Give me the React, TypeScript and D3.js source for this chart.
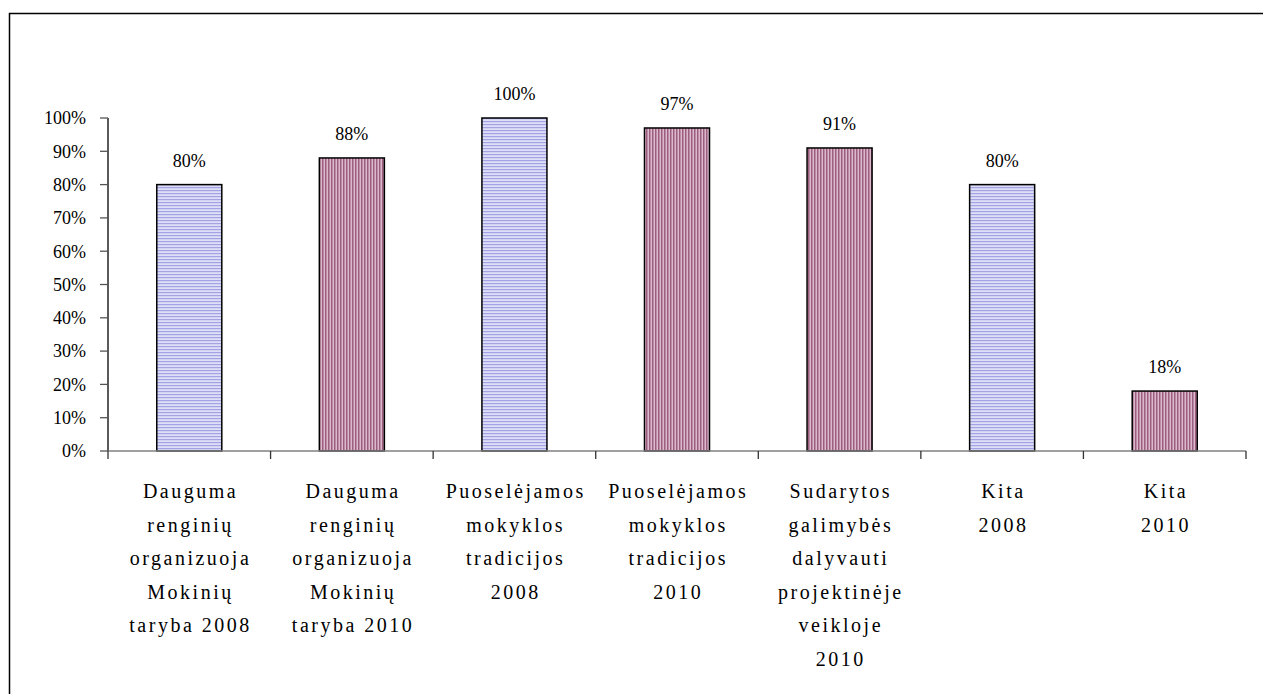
import React from "react";
import * as d3 from "d3";

const categoryLines: string[][] = [
  ["Dauguma", "renginių", "organizuoja", "Mokinių", "taryba 2008"],
  ["Dauguma", "renginių", "organizuoja", "Mokinių", "taryba 2010"],
  ["Puoselėjamos", "mokyklos", "tradicijos", "2008"],
  ["Puoselėjamos", "mokyklos", "tradicijos", "2010"],
  ["Sudarytos", "galimybės", "dalyvauti", "projektinėje", "veikloje", "2010"],
  ["Kita", "2008"],
  ["Kita", "2010"],
];
const years: number[] = [2008, 2010, 2008, 2010, 2010, 2008, 2010];
const values: number[] = [0.8, 0.88, 1.0, 0.97, 0.91, 0.8, 0.18];
const yTicks: number[] = [0, 0.1, 0.2, 0.3, 0.4, 0.5, 0.6, 0.7, 0.8, 0.9, 1.0];

const W = 1263;
const H = 694;
const FONT = "Liberation Serif";
const LS = 2.5;

export default function App() {
  const x = d3
    .scaleBand<number>()
    .domain(values.map((_, i) => i))
    .range([108, 1246])
    .paddingInner(0.6)
    .paddingOuter(0.3);
  const y = d3.scaleLinear().domain([0, 1]).range([451, 118]);
  const fmt = d3.format(".0%");
  const step = x.step();
  const boundaries = d3.range(values.length + 1).map((i) => 108 + i * step);

  return (
    <svg
      width={W}
      height={H}
      fontFamily={FONT}
      style={{ position: "absolute", left: 0, top: 0, background: "#fff" }}
    >
      <defs>
        <pattern id="hstripe" width="4" height="3" patternUnits="userSpaceOnUse">
          <rect width="4" height="3" fill="#dedef6" />
          <rect y="1" width="4" height="1.2" fill="#a3a3e3" />
        </pattern>
        <pattern id="vstripe" width="3" height="4" patternUnits="userSpaceOnUse">
          <rect width="3" height="4" fill="#dcb8cb" />
          <rect x="1" width="1.5" height="4" fill="#9c5e80" />
        </pattern>
      </defs>
      <rect x={9.5} y={13.5} width={W + 20} height={H + 20} fill="none" stroke="#000" strokeWidth={1.5} />

      {/* y axis */}
      <line x1={108} x2={108} y1={y(1)} y2={y(0)} stroke="#000" strokeWidth={1.3} />
      {yTicks.map((t) => (
        <g key={t}>
          <line x1={100} x2={108} y1={y(t)} y2={y(t)} stroke="#555" strokeWidth={1.3} />
          <text x={86} y={y(t)} dy="0.35em" textAnchor="end" fontSize={18} fontFamily={FONT} fill="#000">
            {fmt(t)}
          </text>
        </g>
      ))}

      {/* bars */}
      {values.map((v, i) => (
        <rect
          key={i}
          x={x(i)!}
          y={y(v)}
          width={x.bandwidth()}
          height={y(0) - y(v)}
          fill={years[i] === 2008 ? "url(#hstripe)" : "url(#vstripe)"}
          stroke="#000"
          strokeWidth={1.5}
        />
      ))}

      {/* x axis */}
      <line x1={108} x2={1246} y1={y(0)} y2={y(0)} stroke="#808080" strokeWidth={1.3} />
      {boundaries.map((b, i) => (
        <line key={i} x1={b} x2={b} y1={y(0)} y2={y(0) + 8} stroke="#333" strokeWidth={1.3} />
      ))}

      {/* data labels */}
      {values.map((v, i) => (
        <text
          key={i}
          x={x(i)! + x.bandwidth() / 2}
          y={y(v) - 24}
          dy="0.35em"
          textAnchor="middle"
          fontSize={18}
          fontFamily={FONT}
          fill="#000"
        >
          {fmt(v)}
        </text>
      ))}

      {/* category labels */}
      {categoryLines.map((lines, i) => (
        <text
          key={i}
          textAnchor="middle"
          fontSize={20}
          fontFamily={FONT}
          letterSpacing={LS}
          fill="#000"
        >
          {lines.map((l, j) => (
            <tspan key={j} x={x(i)! + x.bandwidth() / 2 + LS / 2} y={491 + j * 33.6} dy="0.35em">
              {l}
            </tspan>
          ))}
        </text>
      ))}
    </svg>
  );
}
